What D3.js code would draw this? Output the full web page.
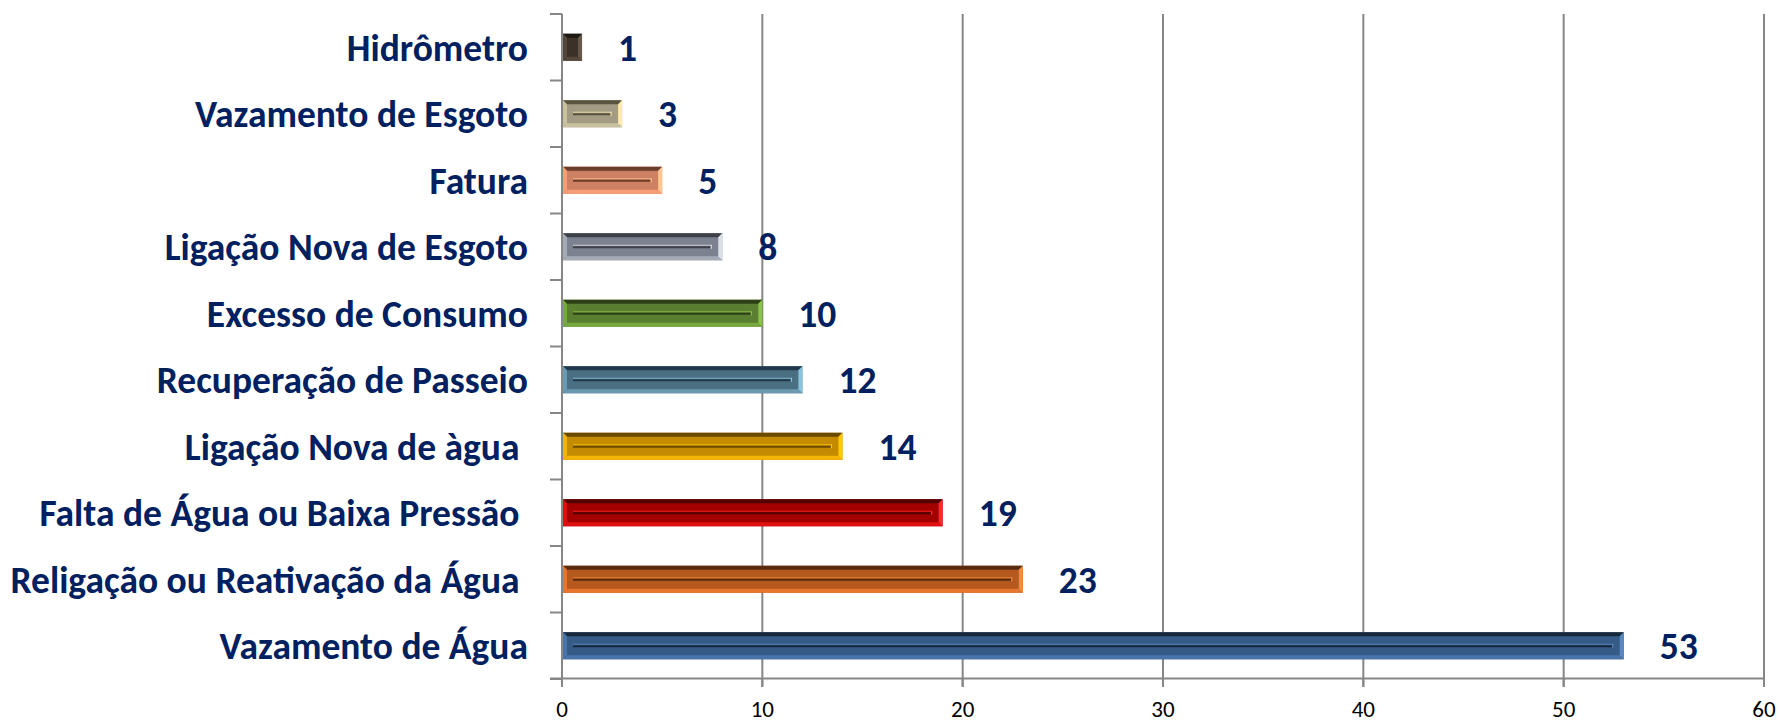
<!DOCTYPE html>
<html>
<head>
<meta charset="utf-8">
<script src="https://cdn.jsdelivr.net/npm/d3@7"></script>
<style>
  html, body { margin: 0; padding: 0; background: #ffffff; }
  svg { display: block; }
  text { white-space: pre; }
</style>
</head>
<body>
<svg id="chart" width="1780" height="723"></svg>
<script>
// ---- data ----
const categories = [
  "Hidrômetro",
  "Vazamento de Esgoto",
  "Fatura",
  "Ligação Nova de Esgoto",
  "Excesso de Consumo",
  "Recuperação de Passeio",
  "Ligação Nova de àgua ",
  "Falta de Água ou Baixa Pressão ",
  "Religação ou Reativação da Água ",
  "Vazamento de Água"
];
const values = [1, 3, 5, 8, 10, 12, 14, 19, 23, 53];
const xTickValues = [0, 10, 20, 30, 40, 50, 60];

// ---- styles (fill, dark edge, light edge, lightest edge) ----
const barStyles = [
  ["#3b3127", "#1c1813", "#54473a", "#66584a"],
  ["#a39b83", "#58533f", "#c9c0a0", "#fbe9b0"],
  ["#cd8162", "#6a3e2a", "#f79c74", "#ffc690"],
  ["#7c828f", "#3d4046", "#a4aab6", "#dcdfe6"],
  ["#5b7f30", "#2c3f16", "#76a83c", "#8cc44a"],
  ["#4a6f82", "#22384a", "#6a9ab2", "#8cc4dc"],
  ["#c48a00", "#6a4a00", "#f5b400", "#ffc800"],
  ["#a30000", "#520000", "#e01010", "#ff2a2a"],
  ["#b5591f", "#582b0e", "#e6762e", "#f58a3a"],
  ["#365b86", "#18283c", "#4874aa", "#5a88c0"]
];

const svg = d3.select("#chart");
const fontFam = "Carlito, Calibri, Lato, 'Open Sans', sans-serif";
const labelColor = "#002060";

const x = d3.scaleLinear().domain([0, 60]).range([562, 1764]);
const y = d3.scaleBand().domain(categories).range([14, 679])
  .paddingInner(0.594).paddingOuter(0.297);

const grid = "#868686";

// vertical gridlines
svg.append("g").selectAll("line").data(xTickValues.filter(d => d > 0)).join("line")
  .attr("x1", d => x(d)).attr("x2", d => x(d))
  .attr("y1", 14).attr("y2", 687)
  .attr("stroke", grid).attr("stroke-width", 2);

// bottom axis line + ticks
svg.append("line").attr("x1", 550).attr("x2", x(60)).attr("y1", 678.5).attr("y2", 678.5)
  .attr("stroke", grid).attr("stroke-width", 2);
svg.append("g").selectAll("line").data(xTickValues).join("line")
  .attr("x1", d => x(d)).attr("x2", d => x(d)).attr("y1", 678).attr("y2", 687)
  .attr("stroke", grid).attr("stroke-width", 2);

// left axis line + ticks
svg.append("line").attr("x1", x(0)).attr("x2", x(0)).attr("y1", 14).attr("y2", 687)
  .attr("stroke", grid).attr("stroke-width", 2);
const step = y.step();
svg.append("g").selectAll("line").data(d3.range(categories.length + 1)).join("line")
  .attr("x1", 550).attr("x2", x(0))
  .attr("y1", i => 14 + i * step).attr("y2", i => 14 + i * step)
  .attr("stroke", grid).attr("stroke-width", 2);

// bars with bevel
const bars = svg.append("g").selectAll("g").data(categories).join("g")
  .attr("transform", (c) => `translate(${x(0) + 1},${y(c)})`);

bars.each(function (c, i) {
  const g = d3.select(this);
  const w = x(values[i]) - x(0) - 1;
  const h = y.bandwidth();
  const b = 4;
  const [fill, dark, light, lightest] = barStyles[i];
  g.append("rect").attr("width", w).attr("height", h).attr("fill", fill);
  g.append("polygon").attr("points", `0,0 ${w},0 ${w - b},${b} ${b},${b}`).attr("fill", dark);
  g.append("polygon").attr("points", `0,0 ${b},${b} ${b},${h - b} 0,${h}`).attr("fill", light);
  g.append("polygon").attr("points", `0,${h} ${b},${h - b} ${w - b},${h - b} ${w},${h}`).attr("fill", light);
  g.append("polygon").attr("points", `${w},0 ${w},${h} ${w - b},${h - b} ${w - b},${b}`).attr("fill", lightest);
  const gx1 = 10, gx2 = w - 11;
  if (gx2 - gx1 > 4) {
    g.append("line").attr("x1", gx1).attr("x2", gx2).attr("y1", h / 2 - 1.5).attr("y2", h / 2 - 1.5)
      .attr("stroke", lightest).attr("stroke-width", 1.2).attr("opacity", 0.8);
    g.append("line").attr("x1", gx1).attr("x2", gx2).attr("y1", h / 2 + 0.5).attr("y2", h / 2 + 0.5)
      .attr("stroke", dark).attr("stroke-width", 2.2);
    g.append("line").attr("x1", gx2).attr("x2", gx2).attr("y1", h / 2 - 2).attr("y2", h / 2 + 2)
      .attr("stroke", lightest).attr("stroke-width", 1.2);
  }
});

// category labels
svg.append("g").selectAll("text").data(categories).join("text")
  .attr("x", 528)
  .attr("y", c => y(c) + y.bandwidth() / 2)
  .attr("dy", "0.36em")
  .attr("text-anchor", "end")
  .attr("font-family", fontFam).attr("font-weight", "bold").attr("font-size", 37.5)
  .attr("fill", labelColor)
  .text(c => c);

// value labels
svg.append("g").selectAll("text").data(categories).join("text")
  .attr("x", (c, i) => x(values[i]) + 36)
  .attr("y", c => y(c) + y.bandwidth() / 2)
  .attr("dy", "0.36em")
  .attr("font-family", fontFam).attr("font-weight", "bold").attr("font-size", 37.5)
  .attr("fill", labelColor)
  .text((c, i) => values[i]);

// x tick labels
svg.append("g").selectAll("text").data(xTickValues).join("text")
  .attr("x", d => x(d)).attr("y", 717)
  .attr("text-anchor", "middle")
  .attr("font-family", fontFam).attr("font-size", 23)
  .attr("fill", "#000")
  .text(d => d);
</script>
</body>
</html>
